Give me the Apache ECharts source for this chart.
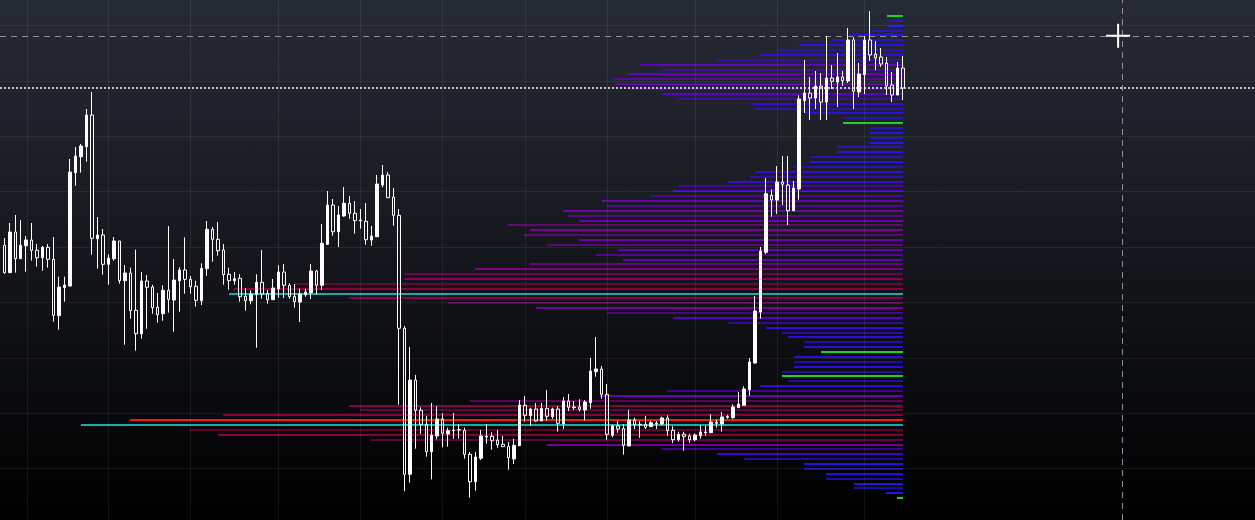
<!DOCTYPE html>
<html>
<head>
<meta charset="utf-8">
<script src="https://cdn.jsdelivr.net/npm/echarts/dist/echarts.min.js"></script>
<style>
html,body{margin:0;padding:0;width:1255px;height:520px;overflow:hidden;}
#chart{width:1255px;height:520px;background:linear-gradient(to bottom,#262a35 0%,#1a1d24 35%,#0c0d10 70%,#000000 100%);}
</style>
</head>
<body>
<div id="chart"></div>
<script>
// ---- Candles (price units, index = bar number) ----
const opens = [278.7,251.3,292,265.3,278.3,284,273.7,266.3,276.7,264.7,
208.3,236.3,238,351.3,367.3,377.3,409,285.3,289,259.7,
265.3,283,243.3,251,213.7,190.3,243,237,216.7,210.3,
233.7,224,243.3,254,244.7,237.7,223.3,255.3,294.7,284.7,
274,249.7,243.3,245.7,227.7,223.3,229.3,241.7,230.3,224.3,
235,252,238.7,227.7,222,229.3,231.3,253,238.7,279.7,
319,292.3,308,320.7,310.7,303,302.7,284,287.3,339,
349,327,308.7,195.7,49.7,144,113.7,99.7,72.3,88,
105,90,93.3,94.3,93.7,69.7,42.3,65.7,87,87.7,
83.7,79.7,77.7,65,78.3,118.7,108.3,115,103,115.7,
107.3,115,100.3,123,117,117,114,121.3,152.3,155,
129.7,88.7,98,95.3,78,104,99.7,99.7,97.3,100,
100,106,93.7,84.3,89.7,88,84.3,88.3,91.3,91.3,
100.7,100,106.7,106.3,116.3,118.7,134.3,161,212,271.7,
328.7,324,342,339,313.3,335,423.3,431,426,438,
422,446,442,447,443,484,432,449.3,484,470,
467,461,439,429,456];
const closes = [251.3,292,265.3,278.7,284,273.7,266.3,276.7,264.7,208.7,
237,239,352,368,378,409,285.7,289,259.7,266,
283,243.3,251,213.3,190.3,243,236.7,216.3,209.3,233.7,
224.7,244,254,244.7,237.3,223.7,255.7,294.7,284.7,273.3,
249.3,243.3,245.3,227.3,223.3,230,241.7,230,224.3,236,
252,238.7,227.3,222.3,230,232,253,238.7,280.7,319,
292.3,309,320.7,310.7,303.3,304,284.3,288,340,349,
326.3,308.7,195.7,49.7,144,113.7,99.7,72.3,89,105,
90.7,93.3,94,94,69.7,42.3,67,88,87.7,83.3,
79.3,77.3,66.3,78.7,119,108.7,115,103,115.7,107.7,
115,100.7,123,116.7,116.3,114.7,122,153,155,129.7,
89.7,98,95,78.7,104,99,99,96.7,101.3,100.7,
106,93.3,84.3,89.7,87.3,84.3,89,92,92,102,
101.7,107,107.3,117,120,135,162,213,273,330.3,
324,342,339.7,313.3,336,425,431,426,438,422,
446,442.7,447,443.3,484,432.7,450,484,469,466,
460,438,429,456,436];
const lows = [250.3,251.3,251.3,265.3,252.3,263.3,257.3,253.3,256.3,202.3,
194.3,222.3,237.3,338.3,351.3,362.3,269.3,255.3,249.3,239.3,
263.3,240.3,179.3,205.3,173.3,185.3,195.3,210.3,201.3,203.3,
211.3,192.3,212.3,230.3,230.3,217.3,219,248,262.3,268.3,
239.3,234.3,239.3,222.3,213.3,219.7,176.3,225.3,220.3,224,
226.3,226,225.3,216.3,202,227.3,225,229.7,234,279,
288.3,277,307.3,305.3,290.3,295.3,279.3,278.3,287.3,336.7,
326.3,298.3,119.3,32.7,41.3,75.3,90,67.3,44.7,84.7,
76.7,77.3,85.3,85.3,65.3,26.3,33.3,64,80.3,74.3,
76.3,77.3,54.3,60,78.3,102.3,98.3,102.3,103,103.3,
105,92.3,95,113,114,112.7,103.7,115.3,147.3,125.3,
84.3,86.7,91.3,69.3,78,95,86.3,95,97.3,95,
99.3,88.3,81,82.3,73.3,81.3,82.7,85.3,88.3,91.3,
96.3,92.3,105.3,105.3,116.3,118,128.3,160.3,205.3,270,
307.3,310,319,299,313.3,324.3,411,404,415,404,
404,435,417,438,441,415,427,430,463,454,
457,429,422,429,424];
const highs = [286,301,309,304,288,301,280,278,280,287,
247.3,247.3,365,377,380,415,432,307,295,269.7,
287,283,259,256.3,274.3,252,249,239,231,238.7,
298,265,256.7,286.7,248,243.3,260.7,303,297,302,
280,256.3,252,250,236,233.7,249.7,274,234,245,
258.7,260,240.7,240,235.3,235.3,260,254,300,333,
325,318,337,328,323,315,321,298,349,359,
352,336,315,198,177,149,116.7,108,121,118,
110.7,96.3,111,100,96.3,72,72,94,100,91.7,
94,88,82,85,124,128,116.3,121,121,134,
116.3,118,127,130,123,124.7,124,166,187,158,
140,99.3,103,100,114,106.3,103,108,103.3,103,
107.3,108.7,97.7,92.3,92.3,90.3,90.7,98.7,98,109.7,
104.3,112,109.3,119.7,132,137.7,166,228,277,346,
334.7,358,368,368,343,428.7,464,447,453,451,
488,459,471,453,496,487,461,488,513,483,
476,467,452,462,468];

// ---- Volume profile (rows from top price downward) ----
const profileTopPrice = 508;
const profileRowStep = 4.87;
const profileVolumes = [16,16,16,31,53,71,104,126,143,186,
263,241,274,290,288,274,241,225,153,148,
98,60,60,33,33,33,33,66,66,93,
93,110,148,153,175,225,230,252,301,296,
340,335,324,395,373,379,324,356,285,307,
280,373,428,499,499,608,669,674,554,455,
367,296,230,175,137,121,115,99,99,82,
109,109,109,121,121,115,143,236,303,433,
554,543,680,773,822,713,685,532,356,241,
186,159,99,99,77,77,49,49,17,6];
const greenRows = [0,22,69,74,99];
const cyanRows = [57,84];
const pocRow = 83;

// ---- Price grid, session separators (bar index) and cursor state ----
const priceGridLevels = [55.4,110.8,166.2,221.6,277,332.4,387.8,443.2,498.6];
const sessionBreaks = [4.14,18.92,33.89,49.95,64.91,79.87,95.02,110.0,126.05,141.0,156.9];
const crosshairIndex = 204.0;
const crosshairPrice = 487.7;
const cursorIndex = 203.25;
const cursorPrice = 488.3;

// ---- build ----
const candleData = opens.map((o, i) => [i, o, closes[i], lows[i], highs[i]]);
const profileData = profileVolumes.map((v, k) => {
  let kind = 0;
  if (greenRows.includes(k)) kind = 1;
  if (cyanRows.includes(k)) kind = 2;
  if (k === pocRow) kind = 3;
  return [v, profileTopPrice - k * profileRowStep, kind, k];
});

const stops = [[0,[40,22,255]],[110,[46,12,242]],[210,[82,0,218]],[300,[110,0,192]],[400,[135,0,146]],[500,[145,0,98]],[650,[145,2,60]],[850,[140,2,52]]];
function volColor(v){
  for (let i=1;i<stops.length;i++){
    if (v <= stops[i][0]) {
      const a = stops[i-1], b = stops[i];
      const t = (v - a[0]) / (b[0] - a[0]);
      const c = a[1].map((x,j)=>Math.round(x + (b[1][j]-x)*t));
      return 'rgb('+c.join(',')+')';
    }
  }
  const c = stops[stops.length-1][1];
  return 'rgb('+c.join(',')+')';
}

const chart = echarts.init(document.getElementById('chart'), null, {renderer:'canvas'});
const noLine = {symbol:['none','none'], silent:true, animation:false, label:{show:false}};
const gridStyle = {color:'rgba(255,255,255,0.065)', width:1, type:'solid'};
chart.setOption({
  animation:false,
  backgroundColor:'transparent',
  grid:{left:0,right:0,top:0,bottom:0},
  xAxis:[
    {type:'value', min:-0.785, max:228.23, show:false},
    {type:'value', inverse:true, min:-352, max:903, show:false}
  ],
  yAxis:[{type:'value', min:4, max:524, show:false}],
  series:[
    {type:'line', data:[], xAxisIndex:0, yAxisIndex:0, z:1,
      markLine:Object.assign({}, noLine, {
        lineStyle:gridStyle,
        data: sessionBreaks.map(x => ({xAxis:x})).concat(priceGridLevels.map(y => ({yAxis:y})))
      })},
    {type:'custom', xAxisIndex:1, yAxisIndex:0, z:2, silent:true,
      data: profileData,
      encode:{x:0, y:1},
      renderItem:function(params, api){
        const v = api.value(0), p = api.value(1), kind = api.value(2), k = api.value(3);
        const a = api.coord([0, p]);
        const b = api.coord([v, p]);
        let stroke = volColor(v), op = (k % 2 === 0) ? 0.92 : 0.68, w = 2;
        if (kind === 1) { stroke = '#1fd41f'; op = 1; }
        if (kind === 2) { stroke = '#1ba9ae'; op = 1; }
        if (kind === 3) { stroke = '#ff1414'; op = 1; }
        const y = Math.round(a[1]);
        return {type:'line', shape:{x1:a[0], y1:y, x2:b[0], y2:y},
          style:{stroke:stroke, lineWidth:w, opacity:op}};
      }},
    {type:'candlestick', xAxisIndex:0, yAxisIndex:0, z:5,
      data: candleData, encode:{x:0, y:[1,2,3,4]},
      barWidth:3,
      itemStyle:{color:'#ffffff', color0:'rgba(0,0,0,0)', borderColor:'#ffffff', borderColor0:'#ffffff', borderColorDoji:'#ffffff', borderWidth:1},
      markLine:Object.assign({}, noLine, {
        lineStyle:{color:'#ffffff', width:1.5, type:[2,2]},
        data:[{yAxis: closes[closes.length-1]}]
      })},
    {type:'line', data:[], xAxisIndex:0, yAxisIndex:0, z:8,
      markLine:Object.assign({}, noLine, {
        lineStyle:{color:'#8d9099', width:1, type:[6,5]},
        data:[{yAxis: crosshairPrice}, {xAxis: crosshairIndex}]
      }),
      markPoint:{silent:true, animation:false, label:{show:false},
        symbol:'path://M11,0h2v11h11v2h-11v11h-2v-11h-11v-2h11z', symbolSize:24,
        itemStyle:{color:'#ffffff'},
        data:[{coord:[cursorIndex, cursorPrice]}]}
    }
  ]
});
</script>
</body>
</html>
